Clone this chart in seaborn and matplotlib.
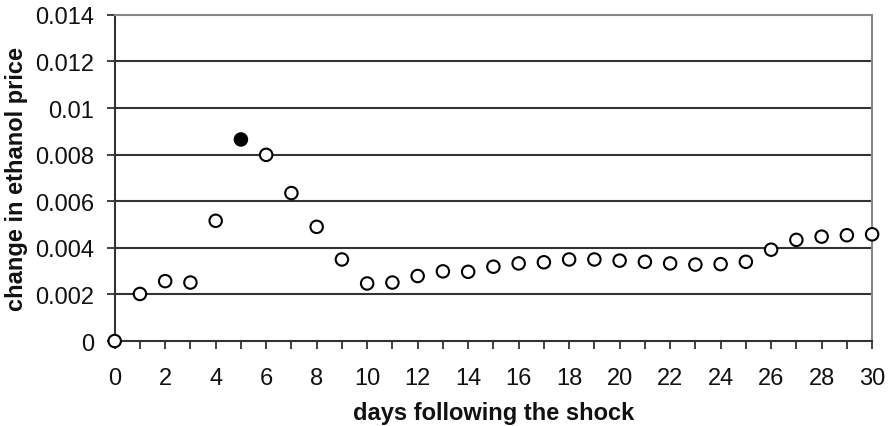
import numpy as np
import pandas as pd
import matplotlib.pyplot as plt
import seaborn as sns

# values
days = list(range(0, 31))
price_change = [0.0, 0.00202, 0.00257, 0.00251, 0.00516, 0.00865, 0.00799, 0.00635,
                0.00490, 0.00350, 0.00247, 0.00251, 0.00279, 0.00299, 0.00297,
                0.00319, 0.00333, 0.00338, 0.00350, 0.00350, 0.00345, 0.00340,
                0.00333, 0.00328, 0.00330, 0.00340, 0.00392, 0.00434, 0.00448,
                0.00454, 0.00458]
significant = [d == 5 for d in days]

df = pd.DataFrame({'day': days, 'change': price_change, 'sig': significant})

sns.set_style('white')
plt.rcParams['font.family'] = ['Liberation Sans', 'DejaVu Sans']
plt.rcParams['text.color'] = '#111111'
plt.rcParams['xtick.labelcolor'] = '#111111'
plt.rcParams['ytick.labelcolor'] = '#111111'
plt.rcParams['axes.labelcolor'] = '#111111'

fig, ax = plt.subplots(figsize=(8.89, 4.27), dpi=100)
fig.subplots_adjust(left=0.129, right=0.981, bottom=0.199, top=0.963)

# horizontal grid lines
for y in np.arange(0.002, 0.0139, 0.002):
    ax.axhline(y, color='#333333', lw=1.5, zorder=1)

sns.scatterplot(data=df, x='day', y='change', hue='sig',
                palette={False: 'white', True: 'black'},
                edgecolor='black', linewidth=1.5, s=80, legend=False,
                clip_on=False, zorder=3, ax=ax)

ax.set_xlim(0, 30)
ax.set_ylim(0, 0.014)
ax.set_xticks(range(0, 31, 2))
ax.set_xticks(range(0, 31), minor=True)
ax.set_yticks(np.arange(0, 0.0141, 0.002))
ax.set_yticklabels(['0', '0.002', '0.004', '0.006', '0.008', '0.01', '0.012', '0.014'])

ax.tick_params(axis='both', which='both', direction='out', length=6, width=1.3,
               color='#333333', labelsize=17, bottom=True, left=True)
ax.tick_params(axis='x', pad=13)
ax.tick_params(axis='y', pad=9)

for side in ['left', 'bottom']:
    ax.spines[side].set_color('#333333')
    ax.spines[side].set_linewidth(1.5)
for side in ['top', 'right']:
    ax.spines[side].set_color('#888888')
    ax.spines[side].set_linewidth(1.5)

ax.set_xlabel('days following the shock', fontsize=17, fontweight='bold', labelpad=8)
ax.set_ylabel('change in ethanol price', fontsize=17, fontweight='bold', labelpad=5)

plt.savefig('out.png', dpi=100)
